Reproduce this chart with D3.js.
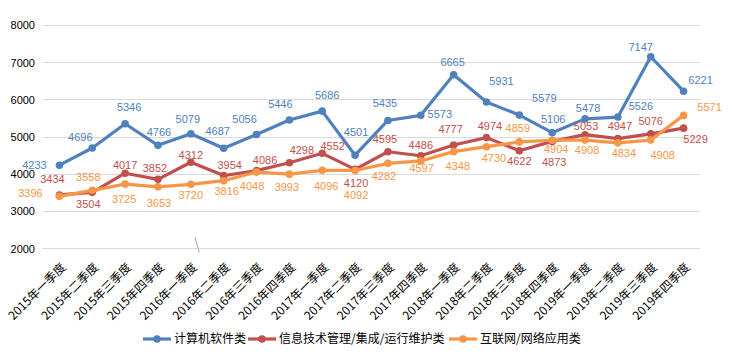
<!DOCTYPE html>
<html><head><meta charset="utf-8">
<script src="https://cdn.jsdelivr.net/npm/d3@7"></script>
<style>body{margin:0;background:#fff}</style>
</head><body>
<svg id="c" width="732" height="357"></svg>
<script>
const categories = ["2015年一季度","2015年二季度","2015年三季度","2015年四季度","2016年一季度","2016年二季度","2016年三季度","2016年四季度","2017年一季度","2017年二季度","2017年三季度","2017年四季度","2018年一季度","2018年二季度","2018年三季度","2018年四季度","2019年一季度","2019年二季度","2019年三季度","2019年四季度"];
const seriesNames = ["计算机软件类","信息技术管理/集成/运行维护类","互联网/网络应用类"];
const software = [4233,4696,5346,4766,5079,4687,5056,5446,5686,4501,5435,5573,6665,5931,5579,5106,5478,5526,7147,6221];
const itManagement = [3434,3504,4017,3852,4312,3954,4086,4298,4552,4120,4595,4486,4777,4974,4622,4873,5053,4947,5076,5229];
const internet = [3396,3558,3725,3653,3720,3816,4048,3993,4096,4092,4282,4348,4597,4730,4859,4904,4908,4834,4908,5571];
const yTicks = [2000,3000,4000,5000,6000,7000,8000];

// layout: label offsets relative to point (px)
const offBlue = [[-25,-0.5],[-12,-11],[4,-17],[1,-13],[-3,-15],[-6,-17],[-12,-16],[-9,-16],[5,-16],[1,-23],[-3,-17],[19,-1],[-1,-13],[15,-21],[25,-17],[1,-14],[3,-11],[23,-11],[-10,-10],[17,-11]];
const offRed = [[-7,-15.5],[-4,12],[0,-8.5],[-3,-11],[0,-7],[6,-11],[8.5,-11],[12.5,-12.5],[10.5,-7],[1,14],[-3,-13],[0,-11],[-3,-16],[3.5,-12],[0,10.5],[2,21],[1,-8.5],[2,-13],[0,-13],[12,11]];
const offOrange = [[-29,-3],[-4,-13],[-1,15],[1,16],[0,11],[3,10],[-4.5,13.5],[-2.5,13],[4,15.5],[1,25],[-4,13],[37,5],[-32,16],[7.5,11],[-1.5,-13.5],[4,9],[2,10],[6,10.5],[12,14.5],[26,-8]];

const colors = ["#4F81BD","#C0504D","#F79646"];
const series = [
  {name: seriesNames[0], values: software, color: colors[0], off: offBlue},
  {name: seriesNames[1], values: itManagement, color: colors[1], off: offRed},
  {name: seriesNames[2], values: internet, color: colors[2], off: offOrange}
];

const svg = d3.select("#c");
const x = d3.scaleBand().domain(categories).range([43, 700]);
const y = d3.scaleLinear().domain([2000, 8000]).range([248.3, 25]);
const cx = c => x(c) + x.bandwidth()/2;

// gridlines
svg.append("g").selectAll("line").data(yTicks).join("line")
  .attr("x1", 43).attr("x2", 700)
  .attr("y1", d => Math.round(y(d)) + 0.5).attr("y2", d => Math.round(y(d)) + 0.5)
  .attr("stroke", "#D9D9D9").attr("stroke-width", 1);

// y axis labels
const yAxis = d3.axisLeft(y).tickValues(yTicks).tickSize(0).tickPadding(0).tickFormat(d3.format("d"));
const gy = svg.append("g").attr("transform", "translate(35,0)").call(yAxis);
gy.select(".domain").remove();
gy.selectAll("text").attr("font-family", "Liberation Sans, Arial, sans-serif").attr("font-size", 11)
  .attr("fill", "#000").attr("dy", "0.35em");

// x labels
const gx = svg.append("g");
gx.selectAll("text").data(categories).join("text")
  .attr("transform", d => `translate(${cx(d)+4},265) rotate(-45)`)
  .attr("text-anchor", "end")
  .attr("font-family", "Noto Sans CJK SC, sans-serif").attr("font-size", 12)
  .attr("fill", "#000")
  .attr("dy", "0.35em")
  .text(d => d);

// small stray stroke seen in reference
svg.append("line").attr("x1", 195).attr("y1", 237.5).attr("x2", 199.3).attr("y2", 252.5)
  .attr("stroke", "#A6A6A6").attr("stroke-width", 1);

// lines
const line = d3.line().x((d, i) => cx(categories[i])).y(d => y(d));
series.forEach(s => {
  const g = svg.append("g");
  g.append("path").datum(s.values).attr("d", line)
    .attr("fill", "none").attr("stroke", s.color).attr("stroke-width", 3.2)
    .attr("stroke-linejoin", "round").attr("stroke-linecap", "round");
  g.selectAll("circle").data(s.values).join("circle")
    .attr("cx", (d, i) => cx(categories[i])).attr("cy", d => y(d)).attr("r", 3.8)
    .attr("fill", s.color);
});
// labels
series.forEach(s => {
  svg.append("g").selectAll("text").data(s.values).join("text")
    .attr("x", (d, i) => cx(categories[i]) + s.off[i][0])
    .attr("y", (d, i) => y(d) + s.off[i][1] + 4)
    .attr("text-anchor", "middle")
    .attr("font-family", "Liberation Sans, Arial, sans-serif").attr("font-size", 11)
    .attr("fill", s.color)
    .text(d => d);
});

// legend
const legendX = [143, 248, 449];
const leg = svg.append("g");
series.forEach((s, i) => {
  const g = leg.append("g").attr("transform", `translate(${legendX[i]},339)`);
  g.append("line").attr("x1", 0).attr("x2", 28).attr("y1", 0).attr("y2", 0)
    .attr("stroke", s.color).attr("stroke-width", 3.2);
  g.append("circle").attr("cx", 14).attr("cy", 0).attr("r", 3.8).attr("fill", s.color);
  g.append("text").attr("x", 31).attr("y", 0).attr("dy", "0.35em")
    .attr("font-family", "Noto Sans CJK SC, sans-serif").attr("font-size", 12)
    .attr("fill", "#000").text(s.name);
});
</script>
</body></html>
